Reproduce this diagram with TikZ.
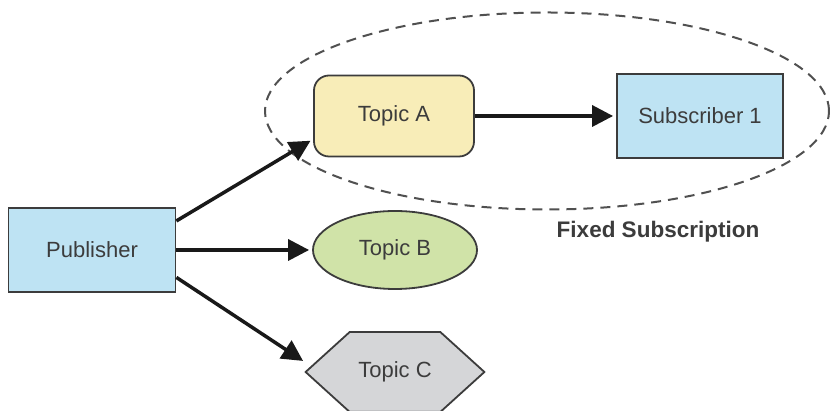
\documentclass[tikz,border=0pt]{standalone}
\usepackage{fontspec}
\setmainfont{Liberation Sans}
\usetikzlibrary{arrows.meta,shapes.geometric,backgrounds}

\definecolor{pubblue}{HTML}{BEE3F3}
\definecolor{topicyellow}{HTML}{F8EDB8}
\definecolor{topicgreen}{HTML}{D0E3A8}
\definecolor{topicgray}{HTML}{D5D6D8}
\definecolor{edgegray}{HTML}{3C3C3C}

\begin{document}
\begin{tikzpicture}[x=1pt, y=1pt,
    box/.style={draw=edgegray, line width=1.8pt, text=edgegray, inner sep=0pt,
        font=\fontsize{22}{26}\selectfont},
    arrow/.style={-{Triangle[length=21pt, width=21pt]}, line width=3.5pt, black!90,
        shorten >=3pt}
]

    % Size of the page
    \useasboundingbox (0, 0) rectangle (830, 411);

    % Chamfer of the hexagon for Topic C
    \def\hexcut{44}

    % Dashed region round the fixed subscription
    \node[ellipse, draw=edgegray!90, dashed, dash pattern=on 10pt off 7pt, line width=2pt,
        minimum width=564, minimum height=197, inner sep=0pt] (fixedscope) at (547, 300) {};
    \node[font=\fontsize{22.5}{26}\selectfont\bfseries, text=edgegray] (fixedlabel) at (658, 179) {Fixed Subscription};

    % Publisher and subscriber
    \node[box, fill=pubblue, minimum width=167, minimum height=84] (publisher) at (92, 161) {Publisher};
    \node[box, fill=pubblue, minimum width=166, minimum height=84] (subscriber) at (700, 295) {Subscriber 1};

    % Topics
    \node[box, fill=topicyellow, rounded corners=15pt, minimum width=160, minimum height=81] (topicA) at (394, 295) {Topic A};
    \node[box, fill=topicgreen, ellipse, minimum width=164, minimum height=78] (topicB) at (395, 161) {Topic B};
    \node[box, draw=none, minimum width=177, minimum height=78] (topicC) at (395, 39) {Topic C};
    \begin{pgfonlayer}{background}
        \draw[box, fill=topicgray] (topicC.west) -- ([xshift=\hexcut]topicC.north west)
            -- ([xshift=-\hexcut]topicC.north east) -- (topicC.east)
            -- ([xshift=-\hexcut]topicC.south east) -- ([xshift=\hexcut]topicC.south west) -- cycle;
    \end{pgfonlayer}

    % Publisher to the three topics
    \draw[arrow] (publisher.19) -- (topicA.196);
    \draw[arrow] (publisher.east) -- (topicB.west);
    \draw[arrow] (publisher.-18) -- (topicC.174);

    % Topic A to its subscriber
    \draw[arrow] (topicA.east) -- (subscriber.west);

\end{tikzpicture}
\end{document}
